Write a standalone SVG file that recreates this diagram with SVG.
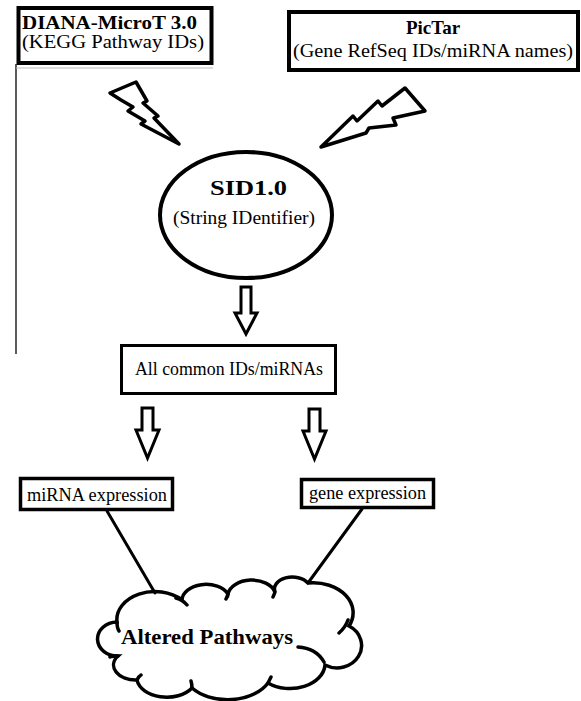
<svg xmlns="http://www.w3.org/2000/svg" width="581" height="701" viewBox="0 0 581 701">
<style>
.box{fill:#fff;stroke:#000}
.t{font-family:"Liberation Serif","Times New Roman",serif;fill:#000}
.b{font-weight:bold}
.ln{stroke:#000;stroke-width:3;fill:none;stroke-linecap:round}
.arr{fill:#fff;stroke:#000;stroke-width:3;stroke-linejoin:miter}
.bolt{fill:#fff;stroke:#000;stroke-width:3.5;stroke-linejoin:round}
.cl{fill:#fff;stroke:#000;stroke-width:3.5;stroke-linecap:round}
</style>
<rect width="581" height="701" fill="#fff"/>
<g id="frame">
<line x1="16" y1="64" x2="16" y2="354" stroke="#333" stroke-width="1.6"/>
<line x1="16" y1="68" x2="213" y2="68" stroke="#bbb" stroke-width="1"/>
</g>
<g id="diana">
<rect class="box" x="18.5" y="8" width="193" height="55" stroke-width="4"/>
<text class="t b" x="22" y="29" font-size="18" textLength="175" lengthAdjust="spacingAndGlyphs">DIANA-MicroT 3.0</text>
<text class="t" x="22" y="48" font-size="18" textLength="182" lengthAdjust="spacingAndGlyphs">(KEGG Pathway IDs)</text>
</g>
<g id="pictar">
<rect class="box" x="289" y="12" width="289" height="58" stroke-width="4"/>
<text class="t b" x="433" y="34" font-size="19" text-anchor="middle">PicTar</text>
<text class="t" x="293" y="57" font-size="19" textLength="280" lengthAdjust="spacingAndGlyphs">(Gene RefSeq IDs/miRNA names)</text>
</g>
<g id="sid">
<ellipse class="box" cx="246" cy="215" rx="86" ry="63" stroke-width="4"/>
<text class="t b" x="210" y="195" font-size="22" textLength="77" lengthAdjust="spacingAndGlyphs">SID1.0</text>
<text class="t" x="173" y="224" font-size="19" textLength="142" lengthAdjust="spacingAndGlyphs">(String IDentifier)</text>
</g>
<g id="common">
<rect class="box" x="121.5" y="345.5" width="214" height="48" stroke-width="3"/>
<text class="t" x="135" y="375" font-size="19" textLength="188" lengthAdjust="spacingAndGlyphs">All common IDs/miRNAs</text>
</g>
<g id="mirna">
<rect class="box" x="20.5" y="478.5" width="152" height="31" stroke-width="3.5"/>
<text class="t" x="27" y="501" font-size="18.5" textLength="140" lengthAdjust="spacingAndGlyphs">miRNA expression</text>
</g>
<g id="gene">
<rect class="box" x="301.5" y="479.5" width="132" height="28" stroke-width="3.5"/>
<text class="t" x="309" y="499" font-size="18.5" textLength="117" lengthAdjust="spacingAndGlyphs">gene expression</text>
</g>
<g id="altered">
<path class="cl" d="M117,622 A38,28 0 0 1 182,600 A24,16 0 0 1 228,594 A24,16 0 0 1 275,592 A18,12 0 0 1 308,583 A40,30 0 0 1 349,626 A22,20 0 0 1 325,665 A35,25 0 0 1 268,683 A45,30 0 0 1 192,688 A30,20 0 0 1 137,680 A22,15 0 0 1 118,656 A20,17 0 0 1 117,622 Z"/>
<path class="cl" d="M176,598 Q183,600 187,605 M298,647 Q316,648 324,662 M348,620 Q345,628 339,633 M117,622 Q117,628 119,631 M118,656 Q112,656 110,657 M137,680 Q139,676 141,675 M192,688 Q192,684 191,681 M268,683 Q270,679 271,677 M228,594 Q227,597 226,599 M275,592 Q274,595 273,597"/>
<text class="t b" x="121" y="644" font-size="22" textLength="172" lengthAdjust="spacingAndGlyphs">Altered Pathways</text>
</g>
<g id="connectors">
<polygon class="bolt" points="110,93 136,82 147,101 143,103 158,116 154,118 179,144 141,124 145,121 128,111 133,107 121,100"/>
<polygon class="bolt" points="321,147 353,116 357,121 378,101 382,106 405,88 425,111 393,118 396,125 369,128 366,133"/>
<polygon class="arr" points="241,287 251,287 251,313 257,313 246,334 235,313 241,313"/>
<polygon class="arr" points="142,408 153,408 153,430 159,430 147.5,458 136,430 142,430"/>
<polygon class="arr" points="309,409 320,409 320,431 326,431 314.5,459 303,431 309,431"/>
<line class="ln" x1="107" y1="511" x2="155" y2="593"/>
<line class="ln" x1="362" y1="509" x2="308" y2="583"/>
</g>
</svg>
